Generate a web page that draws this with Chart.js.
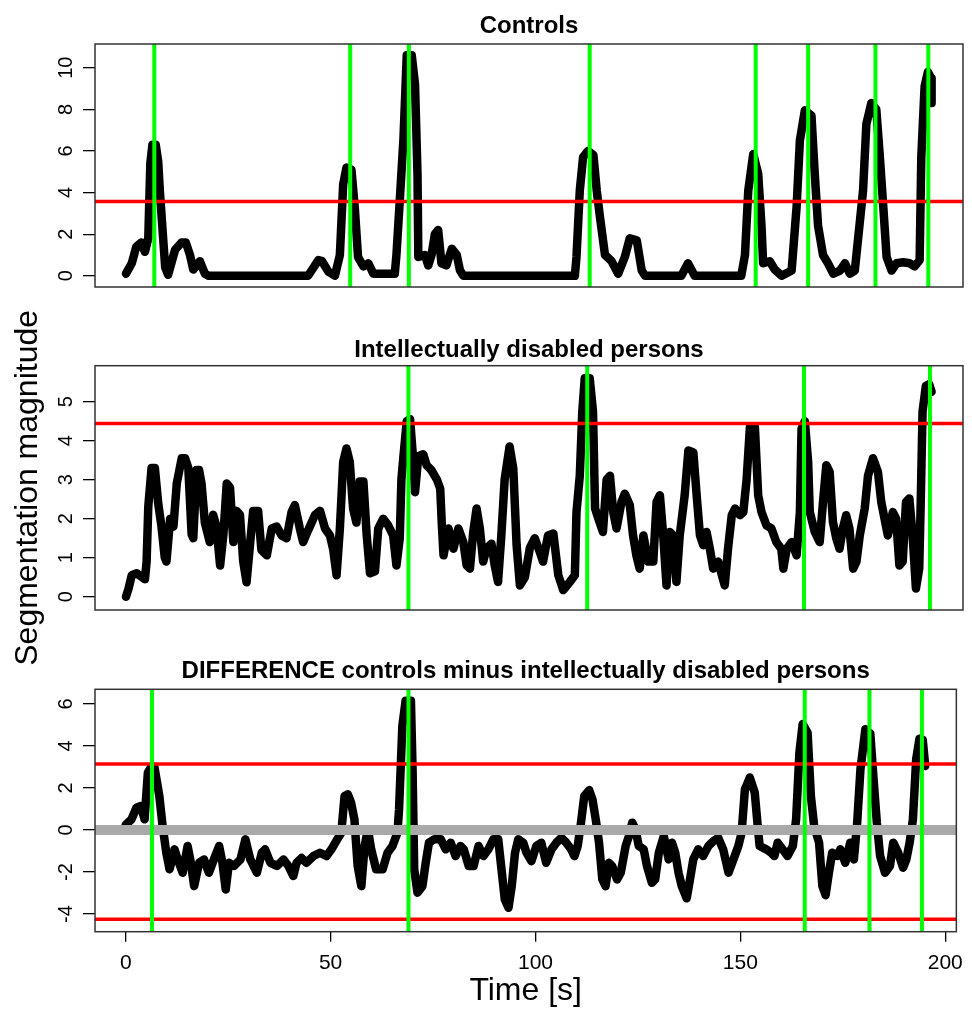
<!DOCTYPE html>
<html>
<head>
<meta charset="utf-8">
<script src="https://cdn.jsdelivr.net/npm/chart.js@4.4.0/dist/chart.umd.min.js"></script>
<style>
  body { margin: 0; background: #fff; }
  #wrap { position: relative; width: 972px; height: 1010px; }
  canvas { position: absolute; left: 0; }
</style>
</head>
<body>
<div id="wrap">
  <canvas id="c1" width="972" height="320" style="top:0px"></canvas>
  <canvas id="c2" width="972" height="380" style="top:290px"></canvas>
  <canvas id="c3" width="972" height="370" style="top:640px"></canvas>
</div>
<script>
// Controls: time [s] and segmentation magnitude
const ctlT = [0, 1.4, 2.5, 3.7, 4.6, 5.4, 5.9, 6.4, 7.2, 7.8, 8.2, 9.0, 9.5, 10.2, 11.9, 13.5, 14.5, 15.5, 16.3, 17.9, 19.1, 20,
  44.1, 46.6, 47.5, 49, 50.6, 51.8, 52.6, 53.4, 54.6, 55.4, 56.2, 57.5, 58.7, 59.9, 65.1, 65.5, 66.3, 67.2, 68.0, 69.2, 70.0, 70.6, 70.8,
  72.4, 73.2, 74.0, 74.8, 75.6, 76.4, 77.6, 78.9, 80.1, 80.9, 81.7, 108.7, 109.1, 109.9, 110.7, 111.9, 113.2, 114.0, 114.8, 116.0,
  117.6, 119.2, 120.8, 122.0, 123.7, 124.9, 125.7, 134.5, 136.1, 137.7, 149.0, 149.9, 150.7, 151.9, 153.1, 153.9, 154.3, 155.9,
  157.1, 158.8, 161.2, 162.4, 163.2, 164.4, 166.0, 166.8, 167.6, 168.8, 170.0, 171.3, 172.9, 174.1, 175.3, 176.5, 178.5, 179.3,
  180.5, 181.7, 182.5, 183.4, 184.2, 185.4, 186.6, 188.2, 189.8, 191.0, 192.2, 192.6, 193.4, 194.2, 195.0, 195.1];
const ctlV = [0.1, 0.6, 1.4, 1.6, 1.15, 1.8, 5.4, 6.3, 6.3, 5.5, 4.1, 1.8, 0.4, 0.05, 1.25, 1.6, 1.6, 1.0, 0.3, 0.7, 0.1, 0,
  0, 0.75, 0.7, 0.2, 0, 1.0, 4.4, 5.2, 5.1, 3.3, 0.9, 0.45, 0.6, 0.1, 0.1, 1.0, 3.6, 6.6, 10.6, 10.6, 9.2, 4.9, 0.9,
  1.0, 0.5, 1.0, 2.0, 2.2, 0.6, 0.5, 1.3, 1.0, 0.25, 0, 0, 0.9, 4.1, 5.7, 6.0, 5.8, 4.1, 2.8, 1.0,
  0.7, 0.1, 0.9, 1.8, 1.7, 0.25, 0, 0, 0.6, 0, 0, 1.0, 4.1, 5.85, 4.9, 2.4, 0.6, 0.7,
  0.3, 0, 0.25, 3.3, 6.5, 7.95, 7.7, 4.9, 2.4, 1.0, 0.6, 0.1, 0.25, 0.6, 0.1, 0.25, 4.1, 7.3,
  8.3, 8.0, 5.9, 3.3, 0.9, 0.25, 0.6, 0.65, 0.6, 0.45, 0.75, 5.7, 9.1, 9.8, 9.5, 8.3];

// Intellectually disabled persons
const idT = [0, 0.6, 1.4, 2.6, 4.6, 5.0, 5.4, 6.2, 7.0, 7.8, 8.6, 9.4, 9.8, 10.7, 11.5, 12.3, 13.5, 14.3, 15.1, 15.9, 16.3, 17.1,
  17.7, 18.3, 19.1, 20.3, 21.1, 21.9, 22.8, 23.6, 24.4, 25.2, 26.0, 26.8, 27.6, 28.4, 29.2, 30.0, 30.8, 32.0, 32.8, 34.1, 35.3,
  36.5, 37.7, 38.9, 40.1, 40.9, 42.1, 42.9, 44.1, 45.8, 47.0, 48.2, 49.4, 50.2, 51.0, 51.8, 52.6, 53.4, 54.2, 55.0, 55.8, 56.6,
  57.5, 58.3, 59.1, 60.3, 61.1, 62.3, 63.5, 64.7, 65.5, 66.3, 66.7, 67.2, 68.0, 68.8, 69.6, 70.0, 70.8, 72.0, 72.8, 74.0, 75.3,
  76.1, 76.5, 76.9, 78.1, 79.3, 80.5, 81.7, 82.5, 83.3, 84.1, 84.9, 85.7, 86.5, 87.3, 88.5, 89.3, 90.1, 90.9, 91.7, 92.9, 93.8,
  94.6, 95.4, 96.6, 97.8, 99.0, 100.2, 101.0, 102.2, 103.5, 104.7, 105.9, 107.5, 108.7, 109.1, 109.9, 110.5, 111.1, 112.3, 113.1,
  113.6, 114.4, 115.5, 116.4, 117.2, 118.0, 118.8, 120.0, 120.8, 122.0, 122.8, 123.6, 124.4, 125.3, 126.5, 127.7, 128.5, 129.3,
  130.1, 130.9, 131.7, 132.5, 133.3, 134.1, 135.3, 136.2, 137.4, 138.2, 139.0, 139.8, 140.6, 141.4, 142.2, 143.4, 145.0, 145.8,
  146.7, 147.5, 148.7, 149.5, 150.3, 151.1, 152.3, 153.1, 153.9, 155.1, 156.3, 157.5, 158.7, 159.2, 160.0, 161.2, 162.4, 163.2,
  163.6, 164.4, 165.2, 165.6, 166.8, 168.0, 168.8, 169.6, 170.4, 171.2, 172.0, 172.8, 173.6, 174.4, 175.2, 176.1, 176.9, 177.7,
  178.9, 179.7, 180.9, 182.1, 182.9, 183.7, 184.5, 185.7, 186.5, 187.3, 188.1, 188.9, 189.7, 190.5, 191.3, 192.1, 192.5, 192.9,
  193.7, 194.5, 195.1];
const idV = [0, 0.2, 0.55, 0.6, 0.45, 0.9, 2.3, 3.3, 3.3, 2.4, 1.8, 1.0, 0.9, 2.0, 1.8, 2.9, 3.55, 3.55, 3.3, 1.6, 1.5, 3.25,
  3.25, 2.9, 1.9, 1.4, 2.1, 1.8, 0.8, 1.6, 2.9, 2.8, 1.4, 2.2, 2.1, 0.9, 0.37, 1.3, 2.2, 2.2, 1.2, 1.06, 1.75,
  1.8, 1.57, 1.5, 2.17, 2.35, 1.75, 1.4, 1.7, 2.1, 2.2, 1.75, 1.57, 1.2, 0.55, 1.75, 3.45, 3.8, 3.45, 2.26, 1.9, 2.95,
  2.95, 1.57, 0.6, 0.65, 1.75, 2.0, 1.83, 1.57, 0.8, 1.5, 3.0, 3.6, 4.5, 4.55, 3.45, 2.68, 3.6, 3.65, 3.37, 3.24, 3.0,
  2.77, 1.83, 1.06, 1.75, 1.23, 1.75, 1.4, 0.8, 0.72, 1.66, 2.26, 1.75, 0.9, 1.23, 1.36, 0.8, 0.38, 1.57, 3.0, 3.85, 3.28,
  1.32, 0.29, 0.5, 1.25, 1.5, 1.15, 0.9, 1.57, 1.62, 0.55, 0.17, 0.38, 0.55, 2.17, 3.1, 4.74, 5.6, 5.6, 4.74,
  2.26, 2.0, 1.66, 3.0, 3.1, 2.17, 1.75, 2.43, 2.64, 2.35, 1.57, 1.06, 0.72, 1.57, 0.9, 0.9, 2.43, 2.6,
  1.57, 0.29, 1.66, 1.57, 0.38, 1.57, 2.6, 3.75, 3.7, 2.6, 1.57, 1.32, 1.66, 1.23, 0.72, 0.9, 0.29, 1.23,
  2.09, 2.26, 2.09, 2.17, 3.0, 4.35, 4.35, 2.6, 2.17, 1.83, 1.75, 1.4, 1.23, 0.72, 1.23, 1.4, 1.06, 2.17,
  4.3, 4.5, 3.45, 2.17, 1.66, 1.4, 2.43, 3.37, 3.2, 1.92, 1.5, 1.23, 1.75, 2.09, 1.75, 0.72, 0.9, 1.57,
  2.26, 3.1, 3.55, 3.2, 2.43, 2.0, 1.57, 2.17, 2.0, 0.8, 0.9, 2.43, 2.52, 1.57, 0.21, 0.72, 2.6, 4.74,
  5.4, 5.45, 5.25];

// Difference controls minus intellectually disabled persons
const diffT = [0, 1.4, 2.6, 3.7, 4.6, 5.4, 6.2, 7.0, 8.2, 9.0, 9.9, 10.7, 11.9, 12.7, 13.9, 15.1, 15.9, 16.7, 17.9, 19.1, 20.3,
  21.5, 22.8, 23.6, 24.4, 25.2, 26.4, 28.0, 29.2, 30.4, 32.0, 33.2, 34.0, 35.3, 36.9, 38.5, 39.7, 40.9, 41.7, 42.9, 44.1, 45.8,
  47.4, 49.0, 50.2, 51.4, 52.6, 53.4, 54.2, 55.0, 55.8, 56.6, 57.5, 58.3, 59.1, 59.9, 61.1, 62.7, 63.9, 65.1, 66.3, 66.7, 67.5,
  68.3, 69.6, 70.0, 70.4, 71.2, 72.4, 73.2, 74.0, 75.3, 76.9, 78.1, 79.3, 80.5, 81.7, 82.5, 83.7, 84.9, 86.1, 87.3, 88.5, 89.7,
  90.9, 91.7, 92.5, 93.4, 94.2, 95.0, 95.8, 97.0, 97.8, 99.0, 100.2, 101.4, 102.6, 103.9, 105.1, 106.3, 107.5, 108.7, 109.5,
  110.3, 111.1, 111.9, 113.1, 113.9, 114.7, 115.5, 116.3, 117.1, 117.9, 118.7, 119.9, 120.8, 122.0, 122.8, 123.6, 124.4, 125.2,
  126.4, 127.2, 128.4, 129.2, 130.1, 131.3, 132.5, 133.3, 134.1, 134.9, 135.7, 136.9, 137.7, 138.5, 139.7, 140.9, 142.2, 143.4,
  144.6, 145.8, 147.1, 148.3, 149.5, 150.3, 151.1, 152.3, 153.5, 154.3, 154.7, 156.3, 157.5, 158.3, 159.1, 160.3, 161.5, 162.8,
  163.6, 164.4, 165.2, 166.4, 167.2, 168.0, 169.2, 170.0, 170.8, 171.6, 172.4, 173.6, 174.4, 175.6, 176.8, 177.7, 178.5, 179.3,
  180.5, 181.7, 182.5, 183.3, 184.1, 185.3, 186.5, 187.3, 188.5, 189.7, 190.5, 191.3, 192.1, 192.9, 193.7, 194.5, 195.1];
const diffV = [0.25, 0.51, 1.06, 1.14, 0.51, 2.73, 3.0, 3.0, 1.62, 0.19, -1.08, -1.87, -0.92, -1.4, -2.03, -0.76, -1.56, -2.67, -1.56, -1.4, -2.03,
  -1.4, -0.76, -1.56, -2.83, -1.56, -1.71, -1.4, -0.44, -1.4, -2.03, -1.08, -0.92, -1.56, -1.71, -1.4, -1.71, -2.19, -1.56, -1.33, -1.56, -1.24,
  -1.08, -1.24, -0.92, -0.52, -0.13, 1.62, 1.7, 1.3, 0.51, -1.71, -2.67, -0.76, 0.03, -0.92, -1.87, -1.87, -1.08, -0.76, -0.13, 0.98, 4.95,
  6.15, 6.15, 2.89, -1.87, -2.98, -2.67, -1.56, -0.6, -0.44, -0.44, -0.92, -0.6, -1.24, -0.76, -0.92, -1.71, -1.71, -0.76, -1.24, -0.92, -0.44,
  -0.44, -1.87, -3.3, -3.7, -2.67, -1.08, -0.44, -0.6, -1.08, -1.48, -0.76, -0.6, -1.56, -0.92, -0.6, -0.37, -0.6, -0.92, -1.24,
  -0.76, 0.35, 1.62, 1.9, 1.46, 0.51, -0.6, -2.35, -2.67, -1.56, -1.71, -2.35, -2.03, -0.76, -0.29, 0.35, 0.03, -0.76,
  -0.92, -1.71, -2.51, -2.35, -1.08, -0.29, -1.4, -0.6, -1.08, -2.03, -2.67, -3.25, -2.35, -1.4, -0.92, -1.24, -0.76, -0.52,
  -0.37, -0.92, -2.03, -1.4, -0.76, -0.13, 1.94, 2.5, 1.78, 0.03, -0.76, -0.92, -1.08, -1.24, -0.6, -0.92, -1.24, -0.76,
  0.51, 3.68, 5.05, 4.63, 1.62, 0.19, -0.6, -2.67, -3.1, -2.03, -1.08, -1.24, -0.92, -1.56, -0.6, -1.4, 0.35, 2.89,
  4.8, 4.6, 2.41, 0.35, -1.24, -2.03, -1.71, -0.6, -1.08, -1.79, -1.4, -0.6, 0.51, 3.37, 4.35, 4.3, 3.05];

// tick labels
const xTicks = [0, 50, 100, 150, 200];
const ctlTicks = [0, 2, 4, 6, 8, 10];
const idTicks = [0, 1, 2, 3, 4, 5];
const diffTicks = [-4, -2, 0, 2, 4, 6];

// thresholds (red), detected boundaries (green)
const ctlThresholds = [3.57];
const idThresholds = [4.44];
const diffThresholds = [3.14, -4.25];
const ctlBoundaries = [6.86, 54.3, 68.5, 112.3, 152.5, 165.2, 181.5, 194.3];
const idBoundaries = [68.4, 111.7, 164.2, 194.7];
const diffBoundaries = [6.4, 69.0, 165.7, 181.5, 194.3];

const FONT = "'Liberation Sans', Arial, sans-serif";

// red / grey horizontal lines and green vertical lines, placed through the scales
const refLinesPlugin = {
  id: 'refLines',
  afterDatasetsDraw(chart, args, opts) {
    const { ctx, chartArea: a, scales: { x, y } } = chart;
    ctx.save();
    ctx.beginPath();
    ctx.rect(a.left, a.top, a.right - a.left, a.bottom - a.top);
    ctx.clip();
    const hline = (v, color, w) => {
      const py = y.getPixelForValue(v);
      ctx.strokeStyle = color;
      ctx.lineWidth = w;
      ctx.beginPath();
      ctx.moveTo(a.left, py);
      ctx.lineTo(a.right, py);
      ctx.stroke();
    };
    (opts.zero || []).forEach(v => hline(v, '#a9a9a9', 10));
    (opts.h || []).forEach(v => hline(v, '#ff0000', 3.5));
    (opts.v || []).forEach(t => {
      const px = x.getPixelForValue(t);
      ctx.strokeStyle = '#00ff00';
      ctx.lineWidth = 4;
      ctx.beginPath();
      ctx.moveTo(px, a.top);
      ctx.lineTo(px, a.bottom);
      ctx.stroke();
    });
    ctx.restore();
  }
};

// R style box round the plot region
const framePlugin = {
  id: 'frame',
  afterDraw(chart) {
    const { ctx, chartArea: a } = chart;
    ctx.save();
    ctx.strokeStyle = '#333';
    ctx.lineWidth = 1.5;
    ctx.strokeRect(a.left, a.top, a.right - a.left, a.bottom - a.top);
    ctx.restore();
  }
};

function widestLabel(labels, size) {
  const c = document.createElement('canvas').getContext('2d');
  c.font = size + 'px ' + FONT;
  return Math.max(...labels.map(l => c.measureText(String(l)).width));
}

function makeChart(id, cfg) {
  const yPad = 17 - widestLabel(cfg.yTicks, 20) / 2;
  return new Chart(document.getElementById(id), {
    type: 'line',
    data: {
      datasets: [{
        data: cfg.t.map((t, i) => ({ x: t, y: cfg.v[i] })),
        borderColor: '#000',
        borderWidth: 8.5,
        borderJoinStyle: 'round',
        borderCapStyle: 'round',
        pointRadius: 0,
        tension: 0,
        fill: false
      }]
    },
    options: {
      responsive: false,
      animation: false,
      events: [],
      layout: { padding: { left: 0, right: 9, top: 0, bottom: cfg.bottomPad } },
      plugins: {
        legend: { display: false },
        tooltip: { enabled: false },
        title: {
          display: true,
          text: cfg.title,
          fullSize: false,
          color: '#000',
          font: { family: FONT, size: 24, weight: 'bold' },
          padding: { top: cfg.titleTop, bottom: cfg.titleBottom }
        },
        refLines: { h: cfg.hLines, v: cfg.vLines, zero: cfg.zero }
      },
      scales: {
        x: {
          type: 'linear',
          min: -7.5,
          max: 202.7,
          display: cfg.showX,
          afterBuildTicks: s => { s.ticks = xTicks.map(v => ({ value: v })); },
          afterFit: s => { if (cfg.xHeight) s.height = cfg.xHeight; },
          grid: { drawOnChartArea: false, drawTicks: true, tickLength: 10, color: '#000', lineWidth: 1.3 },
          border: { display: false },
          ticks: { color: '#000', font: { family: FONT, size: 21 }, padding: 9, maxRotation: 0, autoSkip: false },
          title: { display: cfg.showX, text: 'Time [s]', color: '#000', font: { family: FONT, size: 32 }, padding: { top: 0, bottom: 0 } }
        },
        y: {
          type: 'linear',
          min: cfg.yMin,
          max: cfg.yMax,
          afterBuildTicks: s => { s.ticks = cfg.yTicks.map(v => ({ value: v })); },
          afterFit: s => { s.width = 95; },
          grid: { drawOnChartArea: false, drawTicks: true, tickLength: 12, color: '#000', lineWidth: 1.3 },
          border: { display: false },
          ticks: {
            color: '#000', font: { family: FONT, size: 20 }, padding: yPad,
            minRotation: 90, maxRotation: 90, crossAlign: 'center', autoSkip: false
          },
          title: {
            display: !!cfg.showYTitle, text: 'Segmentation magnitude', color: '#000',
            font: { family: FONT, size: 32 }, padding: { top: 9, bottom: 0 }
          }
        }
      }
    },
    plugins: [refLinesPlugin, framePlugin]
  });
}

makeChart('c1', {
  title: 'Controls', t: ctlT, v: ctlV, yTicks: ctlTicks, yMin: -0.54, yMax: 11.14,
  hLines: ctlThresholds, vLines: ctlBoundaries, zero: [],
  titleTop: 12, titleBottom: 3.2, bottomPad: 33, showX: false
});
makeChart('c2', {
  title: 'Intellectually disabled persons', t: idT, v: idV, yTicks: idTicks, yMin: -0.34, yMax: 5.92,
  hLines: idThresholds, vLines: idBoundaries, zero: [],
  titleTop: 45.6, titleBottom: 1.3, bottomPad: 60, showX: false, showYTitle: true
});
makeChart('c3', {
  title: 'DIFFERENCE controls minus intellectually disabled persons', t: diffT, v: diffV, yTicks: diffTicks, yMin: -4.84, yMax: 6.7,
  hLines: diffThresholds, vLines: diffBoundaries, zero: [0],
  titleTop: 16.6, titleBottom: 3.9, bottomPad: 0, showX: true, xHeight: 78.3
});
</script>
</body>
</html>
